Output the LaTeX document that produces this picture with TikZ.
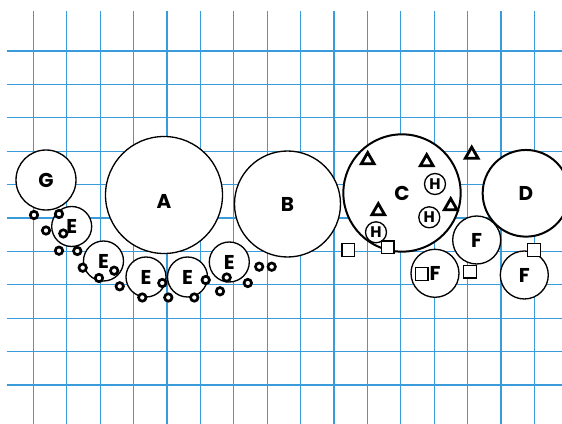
\documentclass[tikz,border=0pt]{standalone}
\usepackage{fontspec}
\setmainfont{Poppins}
\usepackage{tikz}
\usetikzlibrary{shapes.geometric}
\definecolor{gridBlue}{HTML}{3A9BDA}
\tikzset{
  gridline/.style={draw=gridBlue, line width=0.95pt},
  blob/.style={circle, draw=black, fill=white, line width=1pt, inner sep=0pt,
               font=\bfseries\fontsize{15}{15}\selectfont},
  bigblob/.style={blob, line width=1.5pt},
  eblob/.style={blob, minimum size=30pt},
  fblob/.style={blob, minimum size=36pt},
  hblob/.style={blob, minimum size=15.75pt, font=\bfseries\fontsize{11.5}{11.5}\selectfont},
  ring/.style={circle, draw=black, fill=white, line width=2pt, inner sep=0pt, minimum size=5.6pt},
  tri/.style={regular polygon, regular polygon sides=3, draw=black, fill=white,
              line width=2.1pt, inner sep=0pt, minimum size=11pt},
  sq/.style={rectangle, draw=black, fill=white, line width=1pt, inner sep=0pt, minimum size=9.5pt},
}
\begin{document}
\begin{tikzpicture}[x=0.75pt, y=-0.75pt]
  \useasboundingbox (0,0) rectangle (562,424);
  \clip (0,0) rectangle (562,424);
  % grid
  \foreach \k in {1,...,16}
    \draw[gridline] (33.4*\k,11) -- (33.4*\k,424);
  \foreach \j in {0,...,10}
    \draw[gridline] (7,51+33.4*\j) -- (562,51+33.4*\j);

  % big circles
  \node[blob, minimum size=45pt] (G) at (46,180) {G};
  \node[blob, minimum size=87.75pt, label={[font=\bfseries\fontsize{15}{15}\selectfont, yshift=-5pt]center:A}] (A) at (164,195) {};
  \node[blob, minimum size=79.5pt] (B) at (287.5,204) {B};
  \node[bigblob, minimum size=88pt] (C) at (402,193) {C};
  \node[bigblob, minimum size=65pt] (D) at (526,193.3) {D};

  % E and F circles
  \node[eblob] (e1) at (71.7,226.5) {E};
  \node[eblob] (e2) at (103.5,261) {E};
  \node[eblob] (e3) at (146,277) {E};
  \node[eblob] (e4) at (187.5,277) {E};
  \node[eblob] (e5) at (229.3,262) {E};
  \node[fblob] (f1) at (476.7,240) {F};
  \node[fblob] (f2) at (435,273.3) {F};
  \node[fblob] (f3) at (524.3,275) {F};

  % H circles
  \node[hblob] (h1) at (435,184) {H};
  \node[hblob] (h2) at (429.3,217.3) {H};
  \node[hblob] (h3) at (376,232.3) {H};

  % rings
  \foreach \x/\y [count=\i] in {34/215, 59/214, 46/230.5, 63.3/233.5, 59/250.7,
      77.3/251, 82.7/267.7, 99/278, 114.2/270.7, 119.7/286.3, 142.3/297.5,
      162.3/283, 168.3/297.5, 194.3/297.5, 205.7/280, 220/291.3, 226.7/277.5,
      247.8/283, 259.2/266.7, 271.7/266.7}
    \node[ring] (o\i) at (\x,\y) {};

  % triangles
  \node[tri] (t1) at (367.7,160) {};
  \node[tri] (t2) at (426.7,162) {};
  \node[tri] (t3) at (471.7,154.5) {};
  \node[tri] (t4) at (450.7,206) {};
  \node[tri] (t5) at (378.3,211) {};

  % squares
  \node[sq] (s1) at (348.3,250) {};
  \node[sq] (s2) at (387.7,247.3) {};
  \node[sq] (s3) at (470,271.7) {};
  \node[sq] (s4) at (534,250) {};
  \node[sq] (s5) at (421.7,274) {};
\end{tikzpicture}
\end{document}
